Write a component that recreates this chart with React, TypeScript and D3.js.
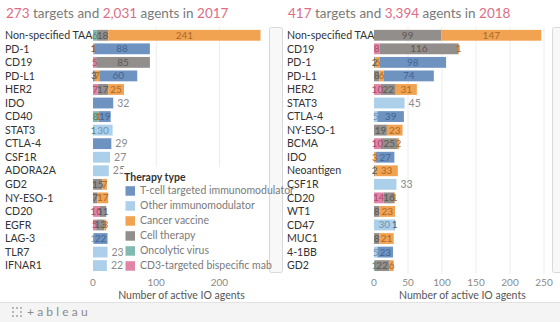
import React from "react";
import * as d3 from "d3";

const W = 560;
const H = 322;

// stacking order (left to right inside a bar)
const stackTypes = [
  "CD3-targeted bispecific mab",
  "Oncolytic virus",
  "Cell therapy",
  "Cancer vaccine",
  "Other immunomodulator",
  "T-cell targeted immunomodulator",
];
const legendTypes = [
  "T-cell targeted immunomodulator",
  "Other immunomodulator",
  "Cancer vaccine",
  "Cell therapy",
  "Oncolytic virus",
  "CD3-targeted bispecific mab",
];
const typeColors = ["#e184a6", "#80bab2", "#928e8b", "#f2a351", "#acd0ea", "#6f93c0"];
const typeTextColors = ["#a64e70", "#4f8a83", "#5c5856", "#a9692c", "#6f93b0", "#3f6593"];

// 2017
const categories2017 = ["Non-specified TAA", "PD-1", "CD19", "PD-L1", "HER2", "IDO", "CD40", "STAT3", "CTLA-4", "CSF1R", "ADORA2A", "GD2", "NY-ESO-1", "CD20", "EGFR", "LAG-3", "TLR7", "IFNAR1"];
const cd3_2017 = [0, 0, 5, 0, 7, 0, 0, 0, 0, 0, 0, 0, 0, 10, 5, 0, 0, 0];
const onco_2017 = [6, 0, 0, 0, 0, 0, 8, 1, 0, 0, 0, 0, 0, 0, 0, 0, 0, 0];
const cell_2017 = [18, 1, 85, 3, 17, 0, 0, 0, 0, 0, 0, 15, 7, 11, 13, 0, 0, 0];
const vacc_2017 = [241, 1, 0, 7, 25, 0, 1, 0, 0, 0, 0, 7, 17, 0, 3, 0, 0, 0];
const other_2017 = [0, 0, 0, 0, 0, 0, 0, 30, 0, 27, 25, 0, 0, 0, 0, 1, 23, 22];
const tcell_2017 = [0, 88, 0, 60, 0, 32, 19, 0, 29, 0, 0, 0, 0, 0, 0, 22, 0, 0];
const ticks2017 = [0, 100, 200];

// 2018
const categories2018 = ["Non-specified TAA", "CD19", "PD-1", "PD-L1", "HER2", "STAT3", "CTLA-4", "NY-ESO-1", "BCMA", "IDO", "Neoantigen", "CSF1R", "CD20", "WT1", "CD47", "MUC1", "4-1BB", "GD2"];
const cd3_2018 = [0, 8, 0, 0, 10, 0, 0, 0, 10, 0, 0, 0, 14, 0, 0, 0, 0, 0];
const onco_2018 = [0, 0, 0, 0, 0, 0, 0, 0, 0, 0, 0, 0, 0, 0, 0, 0, 0, 1];
const cell_2018 = [99, 116, 2, 8, 22, 0, 0, 19, 25, 0, 2, 0, 16, 8, 0, 8, 0, 22];
const vacc_2018 = [147, 1, 6, 6, 31, 0, 0, 23, 2, 3, 33, 0, 1, 23, 0, 21, 0, 6];
const other_2018 = [0, 0, 0, 0, 0, 45, 5, 0, 0, 0, 0, 33, 0, 0, 30, 0, 5, 0];
const tcell_2018 = [0, 0, 98, 74, 0, 0, 39, 0, 0, 27, 0, 0, 0, 0, 1, 0, 23, 0];
const ticks2018 = [0, 50, 100, 150, 200, 250];

const titles = [
  { targets: "273", agents: "2,031", year: "2017" },
  { targets: "417", agents: "3,394", year: "2018" },
];

const FONT = "Lato, 'Open Sans', sans-serif";

type PanelProps = {
  categories: string[];
  series: number[][];
  ticks: number[];
  xMax: number;
  x0: number;
  x1: number;
  labelX: number;
  title: { targets: string; agents: string; year: string };
};

function Panel({ categories, series, ticks, xMax, x0, x1, labelX, title }: PanelProps) {
  const x = d3.scaleLinear().domain([0, xMax]).range([x0, x1]);
  const y = d3.scaleBand<string>().domain(categories).range([28.5, 272.4]).paddingInner(0.2).paddingOuter(0.1);
  const rows = categories.map((c, i) => {
    const vals = series.map((s) => s[i]);
    const stack = d3.cumsum(vals);
    return { c, vals, stack };
  });
  const pink = "#dc6d85";
  const grey = "#7a7a7a";
  return (
    <g>
      <text x={labelX + 1} y={18} fontSize={13.5} fontFamily={FONT} fill={grey}>
        <tspan fill={pink}>{title.targets}</tspan>
        <tspan> targets and </tspan>
        <tspan fill={pink}>{title.agents}</tspan>
        <tspan> agents in </tspan>
        <tspan fill={pink}>{title.year}</tspan>
      </text>
      {ticks.filter((t) => t > 0).map((t) => (
        <line key={t} x1={x(t)} x2={x(t)} y1={27} y2={274} stroke="#ececec" strokeWidth={1} />
      ))}
      {rows.map((r) => {
        const yy = y(r.c) as number;
        const bw = y.bandwidth();
        const nz = r.vals.filter((v) => v > 0).length;
        const total = r.stack[r.stack.length - 1];
        return (
          <g key={r.c}>
            <text x={labelX} y={yy + bw / 2} dy="0.35em" fontSize={10.6} fontFamily={FONT} fill="#333">
              {r.c}
            </text>
            {r.vals.map((v, k) => {
              if (v <= 0) return null;
              const s0 = r.stack[k] - v;
              return (
                <rect key={k} x={x(s0)} y={yy} width={x(r.stack[k]) - x(s0)} height={bw} fill={typeColors[k]} />
              );
            })}
            {nz === 1 ? (
              <text x={x(total) + 4} y={yy + bw / 2} dy="0.35em" fontSize={10.5} fontFamily={FONT} fill="#8a8a8a">
                {total}
              </text>
            ) : (
              r.vals.map((v, k) => {
                if (v <= 0) return null;
                const s0 = r.stack[k] - v;
                return (
                  <text key={k} x={x(s0 + v / 2)} y={yy + bw / 2} dy="0.35em" textAnchor="middle" fontSize={10} fontFamily={FONT} fill={typeTextColors[k]}>
                    {v}
                  </text>
                );
              })
            )}
          </g>
        );
      })}
      {ticks.map((t) => (
        <text key={t} x={x(t)} y={286} textAnchor="middle" fontSize={10} fontFamily={FONT} fill="#8a8a8a">
          {t}
        </text>
      ))}
      <text x={(x0 + x1) / 2} y={298.5} textAnchor="middle" fontSize={10.5} fontFamily={FONT} fill="#555">
        Number of active IO agents
      </text>
    </g>
  );
}

export default function App() {
  const s2017 = [cd3_2017, onco_2017, cell_2017, vacc_2017, other_2017, tcell_2017];
  const s2018 = [cd3_2018, onco_2018, cell_2018, vacc_2018, other_2018, tcell_2018];
  const legendY = d3.scaleLinear().domain([0, 5]).range([190.7, 265.7]);
  const dots: [number, number][] = [];
  [-4, 0, 4].forEach((dx) => [-4, 0, 4].forEach((dy) => { if (dx !== 0 || dy !== 0) dots.push([dx, dy]); }));
  return (
    <svg width={W} height={H} style={{ position: "absolute", left: 0, top: 0, background: "#fff" }}>
      <rect x={0} y={0} width={W} height={H} fill="#fff" />
      <Panel categories={categories2017} series={s2017} ticks={ticks2017} xMax={280} x0={93} x1={270} labelX={5} title={titles[0]} />
      <Panel categories={categories2018} series={s2018} ticks={ticks2018} xMax={260} x0={374} x1={550.8} labelX={287} title={titles[1]} />
      {/* scrollbars */}
      <rect x={269.5} y={27.5} width={13} height={245} rx={2} fill="#f8f8f8" stroke="#d9d9d9" />
      <rect x={552.5} y={27.5} width={13} height={245} rx={2} fill="#f8f8f8" stroke="#d9d9d9" />
      {/* legend */}
      <rect x={123} y={167} width={146} height={106} fill="#fff" />
      <text x={124} y={181} fontSize={10.5} fontWeight="bold" fontFamily={FONT} fill="#333">
        Therapy type
      </text>
      {legendTypes.map((t, i) => {
        const k = stackTypes.indexOf(t);
        const cy = legendY(i);
        return (
          <g key={t}>
            <rect x={125.5} y={cy - 4.5} width={9.5} height={9.5} fill={typeColors[k]} />
            <text x={140} y={cy} dy="0.35em" fontSize={10.5} fontFamily={FONT} fill="#7a7a7a">
              {t}
            </text>
          </g>
        );
      })}
      {/* footer */}
      <rect x={0} y={302} width={W} height={20} fill="#f4f4f4" />
      <line x1={0} x2={W} y1={302.5} y2={302.5} stroke="#e2e2e2" />
      {dots.map(([dx, dy], i) => (
        <circle key={i} cx={17 + dx} cy={312 + dy} r={0.9} fill="#9a9a9a" />
      ))}
      <text x={27} y={316} fontSize={12} fontFamily={FONT} fill="#8a8a8a" letterSpacing={3.2}>
        +ableau
      </text>
    </svg>
  );
}
